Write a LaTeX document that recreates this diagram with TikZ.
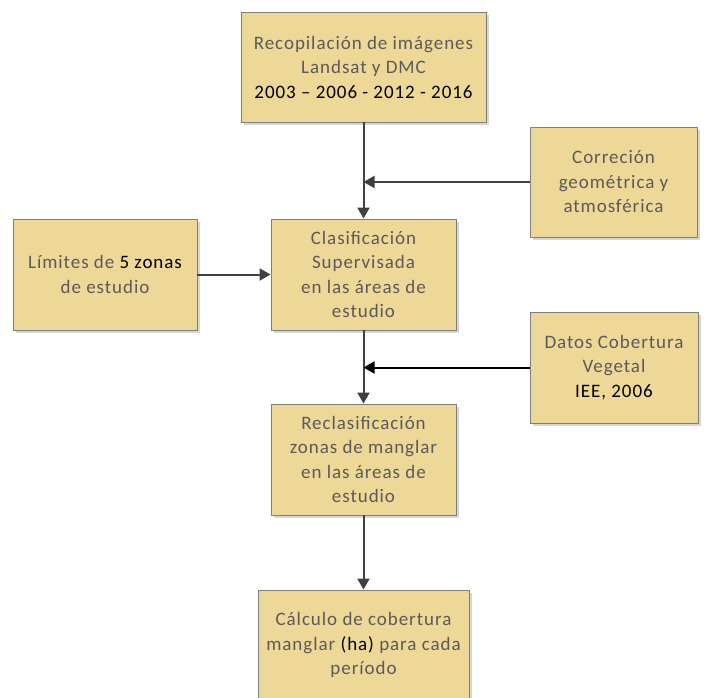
\documentclass[tikz,border=0pt]{standalone}
\usepackage{fontspec}
\setmainfont{Carlito}[LetterSpace=5]
\usepackage{tikz}
\usetikzlibrary{arrows.meta, shadows}
\definecolor{boxtan}{HTML}{EDD898}
\definecolor{boxedge}{HTML}{7F7F7F}
\definecolor{softtext}{HTML}{5A5A5A}
\definecolor{flowline}{HTML}{404040}
\tikzset{
	stagebox/.style={draw=boxedge, fill=boxtan, line width=0.9pt, align=center,
		inner sep=0pt, text=softtext, font=\fontsize{19}{24.5}\selectfont,
		drop shadow={shadow xshift=3pt, shadow yshift=-3pt, fill=black!16, opacity=1}},
	flow/.style={draw=flowline, line width=2pt, -{Triangle[length=11pt,width=12pt]}}
}

\begin{document}
\begin{tikzpicture}[x=1pt, y=-1pt]
				\useasboundingbox (0,0) rectangle (704,698);
				% main column
				\node[stagebox, minimum width=245pt, minimum height=110pt] (imgs) at (363.5,67) {
					Recopilación de imágenes\\
					Landsat y DMC\\
					\textcolor{black}{2003 – 2006 - 2012 - 2016}
				};
				\node[stagebox, minimum width=185pt, minimum height=111pt] (clasif) at (363.5,274.5) {
					Clasificación\\
					Supervisada\\
					en las áreas de\\
					estudio
				};
				\node[stagebox, minimum width=185pt, minimum height=111pt] (reclasif) at (363.5,459.5) {
					Reclasificación\\
					zonas de manglar\\
					en las áreas de\\
					estudio
				};
				\node[stagebox, minimum width=211pt, minimum height=110pt] (calculo) at (363.5,645) {
					Cálculo de cobertura\\
					manglar \textcolor{black}{(ha)} para cada\\
					período
				};
				% side inputs
				\node[stagebox, minimum width=184pt, minimum height=111pt] (limites) at (105,274.5) {
					Límites de \textcolor{black}{5 zonas}\\
					de estudio
				};
				\node[stagebox, minimum width=167pt, minimum height=110pt] (correccion) at (613.5,182) {
					Correción\\
					geométrica y\\
					atmosférica
				};
				\node[stagebox, minimum width=168pt, minimum height=111pt] (datos) at (614,367.5) {
					Datos Cobertura\\
					Vegetal\\
					\textcolor{black}{IEE, 2006}
				};
				% connectors
				\draw[flow] (imgs.south) -- (clasif.north);
				\draw[flow] (clasif.south) -- (reclasif.north);
				\draw[flow] (reclasif.south) -- (calculo.north);
				\draw[flow] (limites.east) -- (clasif.west);
				\draw[flow] (correccion.west) -- (correccion.west -| imgs.south);
				\draw[flow, draw=black] (datos.west) -- (datos.west -| clasif.south);
			\end{tikzpicture}
\end{document}
